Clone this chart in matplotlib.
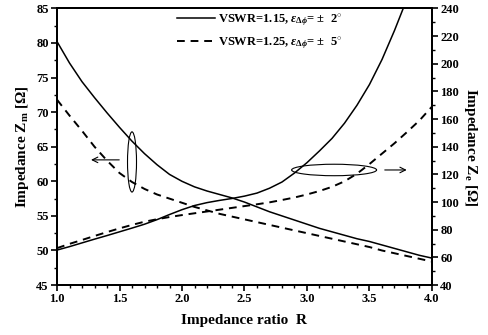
import numpy as np
import matplotlib
matplotlib.use("Agg")
import matplotlib.pyplot as plt
from matplotlib.patches import Ellipse
from matplotlib.ticker import MultipleLocator

plt.rcParams['font.family'] = ['Liberation Serif', 'DejaVu Serif']
plt.rcParams['font.weight'] = 'bold'
plt.rcParams['mathtext.fontset'] = 'custom'
plt.rcParams['mathtext.rm'] = 'Liberation Serif:bold'
plt.rcParams['mathtext.bf'] = 'Liberation Serif:bold'
plt.rcParams['mathtext.it'] = 'Liberation Serif:bold:italic'

# impedance ratio R
R = [1.0, 1.1, 1.2, 1.3, 1.4, 1.5, 1.6, 1.7, 1.8, 1.9, 2.0, 2.1, 2.2, 2.3, 2.4,
     2.5, 2.6, 2.7, 2.8, 2.9, 3.0, 3.1, 3.2, 3.3, 3.4, 3.5, 3.6, 3.7, 3.8, 3.9, 4.0]

# Zm (left axis)
zm_115 = [80.2, 77.1, 74.4, 72.1, 69.9, 67.8, 65.8, 64.0, 62.4, 61.0, 60.0, 59.2, 58.6, 58.1, 57.6,
          57.0, 56.3, 55.6, 55.0, 54.4, 53.8, 53.2, 52.7, 52.2, 51.7, 51.3, 50.8, 50.3, 49.8, 49.3, 48.9]
zm_125 = [71.8, 69.5, 67.3, 65.0, 63.0, 61.2, 59.9, 58.9, 58.1, 57.5, 56.9, 56.3, 55.8, 55.3, 54.9,
          54.5, 54.1, 53.7, 53.3, 52.9, 52.5, 52.1, 51.7, 51.3, 50.9, 50.5, 50.0, 49.6, 49.2, 48.8, 48.4]

# Ze (right axis)
R_ze115 = [1.0, 1.1, 1.2, 1.3, 1.4, 1.5, 1.6, 1.7, 1.8, 1.9, 2.0, 2.1, 2.2, 2.3, 2.4, 2.5,
           2.6, 2.7, 2.8, 2.9, 3.0, 3.1, 3.2, 3.3, 3.4, 3.5, 3.6, 3.7, 3.77]
ze_115 = [65.3, 67.8, 70.5, 73.2, 75.8, 78.5, 81.2, 84.0, 87.3, 91.0, 94.5, 97.5, 99.6, 101.2, 102.6, 104.3,
          106.5, 110.0, 114.5, 121.0, 128.5, 137.0, 146.0, 157.0, 170.0, 185.0, 203.0, 224.0, 240.0]
ze_125 = [66.7, 69.8, 72.6, 75.5, 78.3, 81.0, 83.5, 85.8, 87.6, 89.2, 90.6, 91.9, 93.2, 94.5, 95.8,
          97.1, 98.4, 99.8, 101.5, 103.3, 105.5, 108.0, 111.0, 115.0, 120.5, 127.5, 135.0, 142.5, 150.6, 159.0, 169.0]

fig = plt.figure(figsize=(4.89, 3.35), dpi=100)
ax = fig.add_axes([0.1166, 0.149, 0.7668, 0.826])
ax2 = ax.twinx()

lw = 1.1
l1, = ax.plot(R, zm_115, color='black', lw=lw)
l2, = ax.plot(R, zm_125, color='black', lw=1.4, dashes=(4, 3))
ax2.plot(R_ze115, ze_115, color='black', lw=lw)
ax2.plot(R, ze_125, color='black', lw=1.4, dashes=(4, 3))

ax.set_xlim(1.0, 4.0)
ax.set_ylim(45, 85)
ax2.set_ylim(40, 240)
ax.xaxis.set_major_locator(MultipleLocator(0.5))
ax.xaxis.set_minor_locator(MultipleLocator(0.1))
ax.yaxis.set_major_locator(MultipleLocator(5))
ax.yaxis.set_minor_locator(MultipleLocator(2.5))
ax2.yaxis.set_major_locator(MultipleLocator(20))
ax2.yaxis.set_minor_locator(MultipleLocator(10))
ax.xaxis.set_major_formatter(matplotlib.ticker.FormatStrFormatter('%.1f'))

for a in (ax, ax2):
    a.tick_params(which='major', direction='out', length=4, width=1.2, labelsize=9, pad=2)
    a.tick_params(which='minor', direction='out', length=2.5, width=1.0)
    for s in a.spines.values():
        s.set_linewidth(1.4)

ax.set_xlabel('Impedance ratio  R', fontsize=11, fontweight='bold', labelpad=6)
ax.set_ylabel('Impedance Z$_\\mathregular{m}$ [\u03a9]', fontsize=11, fontweight='bold', labelpad=4)
ax2.set_ylabel('Impedance Z$_\\mathregular{e}$ [\u03a9]', fontsize=11, fontweight='bold',
               rotation=270, labelpad=14)

# ellipses and arrows marking which axis each pair uses
ax.add_patch(Ellipse((1.6, 62.8), 0.072, 8.7, fill=False, lw=0.8, color='black'))
ax.annotate('', xy=(1.25, 63.1), xytext=(1.52, 63.1),
            arrowprops=dict(arrowstyle='->', lw=0.8, color='black'))
ax2.add_patch(Ellipse((3.217, 123.2), 0.68, 8.3, fill=False, lw=0.8, color='black'))
ax2.annotate('', xy=(3.82, 123.2), xytext=(3.6, 123.2),
             arrowprops=dict(arrowstyle='->', lw=0.8, color='black'))

ax.legend([l1, l2],
          ['VSWR=1.15, $\\varepsilon_{\\Delta\\phi}$= \u00b1  2$^{\\circ}$',
           'VSWR=1.25, $\\varepsilon_{\\Delta\\phi}$= \u00b1  5$^{\\circ}$'],
          loc='upper left', bbox_to_anchor=(0.32, 0.985), frameon=False,
          fontsize=9, handlelength=3.0, handletextpad=0.3, labelspacing=0.55,
          borderpad=0.0, borderaxespad=0.0)

fig.savefig('out.png', dpi=100)
